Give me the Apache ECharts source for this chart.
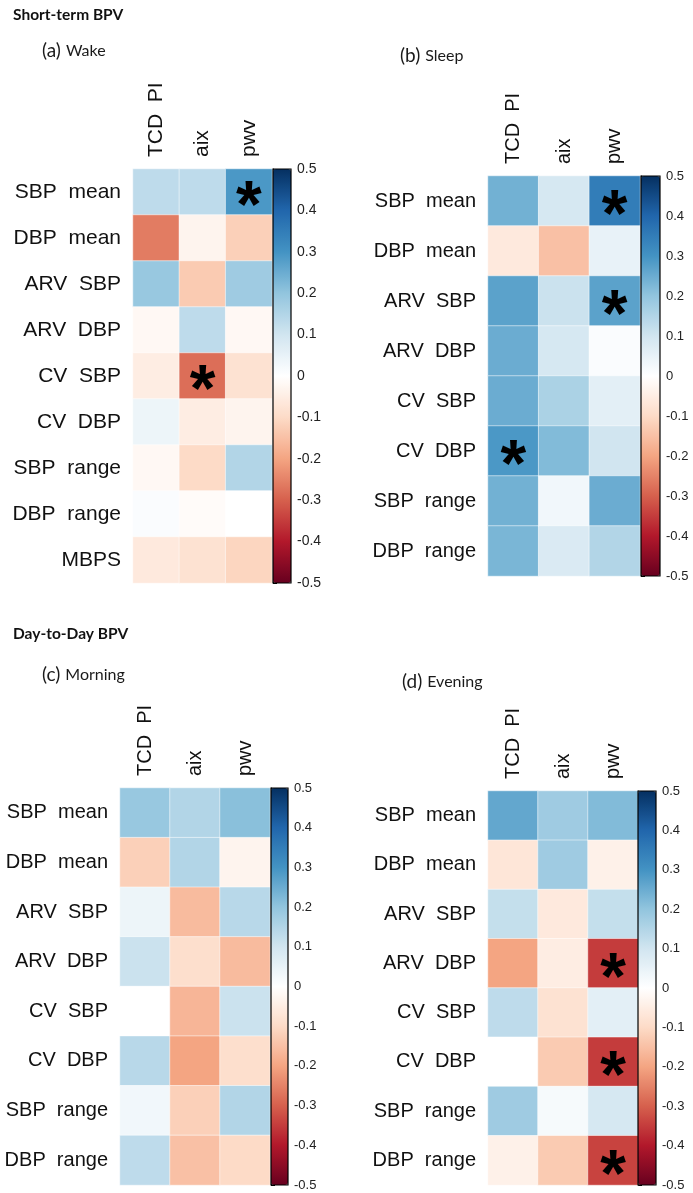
<!DOCTYPE html>
<html>
<head>
<meta charset="utf-8">
<title>BPV correlations</title>
<script src="https://cdn.jsdelivr.net/npm/echarts@6/dist/echarts.min.js"></script>
<style>
  html, body { margin: 0; padding: 0; background: #fff; }
  #chart { width: 693px; height: 1193px; }
</style>
</head>
<body>
<div id="chart"></div>
<script>
// axis categories
const colLabels = ['TCD  PI', 'aix', 'pwv'];
const rowLabels = ['SBP  mean', 'DBP  mean', 'ARV  SBP', 'ARV  DBP', 'CV  SBP',
                   'CV  DBP', 'SBP  range', 'DBP  range', 'MBPS'];

// (a) Wake  - one value per row, per column
const wakeTcd = [0.13, -0.26, 0.19, -0.02, -0.05, 0.04, -0.02, 0.01, -0.06];
const wakeAix = [0.13, -0.03, -0.13, 0.13, -0.28, -0.05, -0.10, -0.01, -0.08];
const wakePwv = [0.29, -0.12, 0.18, -0.02, -0.08, -0.03, 0.15, 0.00, -0.11];
const wakeStars = [[0, 2], [4, 1]];          // [row, col]

// (b) Sleep
const sleepTcd = [0.24, -0.06, 0.27, 0.25, 0.25, 0.29, 0.24, 0.23];
const sleepAix = [0.09, -0.15, 0.11, 0.09, 0.16, 0.22, 0.03, 0.08];
const sleepPwv = [0.35, 0.05, 0.27, 0.01, 0.06, 0.10, 0.25, 0.15];
const sleepStars = [[0, 2], [2, 2], [5, 0]];

// (c) Morning
const morningTcd = [0.19, -0.12, 0.04, 0.11, 0.00, 0.14, 0.03, 0.13];
const morningAix = [0.15, 0.15, -0.16, -0.09, -0.17, -0.20, -0.12, -0.15];
const morningPwv = [0.21, -0.03, 0.14, -0.16, 0.11, -0.09, 0.15, -0.10];
const morningStars = [];

// (d) Evening
const eveningTcd = [0.26, -0.07, 0.12, -0.20, 0.13, 0.00, 0.18, -0.04];
const eveningAix = [0.18, 0.18, -0.06, -0.05, -0.08, -0.13, 0.02, -0.13];
const eveningPwv = [0.22, -0.04, 0.12, -0.35, 0.06, -0.35, 0.09, -0.34];
const eveningStars = [[3, 2], [5, 2], [7, 2]];

// colour scale (RdBu) and colour bar range
const rdbu = ['#67001F', '#B2182B', '#D6604D', '#F4A582', '#FDDBC7', '#FFFFFF',
              '#D1E5F0', '#92C5DE', '#4393C3', '#2166AC', '#053061'];
const scaleMin = -0.5;
const scaleMax = 0.5;
const scaleStep = 0.1;

const panels = [
  { cols: [wakeTcd, wakeAix, wakePwv], stars: wakeStars, rows: 9,
    grid: { left: 133, top: 169, width: 139, height: 414 },
    bar: { left: 273, width: 18 }, font: 21, tickFont: 14 },
  { cols: [sleepTcd, sleepAix, sleepPwv], stars: sleepStars, rows: 8,
    grid: { left: 488, top: 176, width: 152, height: 400 },
    bar: { left: 641, width: 19 }, font: 20, tickFont: 13 },
  { cols: [morningTcd, morningAix, morningPwv], stars: morningStars, rows: 8,
    grid: { left: 120, top: 788, width: 150, height: 397 },
    bar: { left: 271, width: 17 }, font: 20, tickFont: 13 },
  { cols: [eveningTcd, eveningAix, eveningPwv], stars: eveningStars, rows: 8,
    grid: { left: 488, top: 791, width: 150, height: 394 },
    bar: { left: 638, width: 18 }, font: 20, tickFont: 13 }
];

const labelFont = "'Liberation Sans', Arial, sans-serif";
const titleFont = "Lato, 'Open Sans', sans-serif";

const grids = [], xAxes = [], yAxes = [], series = [], visualMaps = [];

panels.forEach(function (p, i) {
  const rows = rowLabels.slice(0, p.rows);
  const starKeys = p.stars.map(function (s) { return s[0] + '_' + s[1]; });
  const data = [];
  p.cols.forEach(function (vals, c) {
    vals.forEach(function (v, r) { data.push([c, r, v]); });
  });

  // heatmap grid
  grids.push(Object.assign({ outerBoundsMode: 'none' }, p.grid));
  xAxes.push({
    type: 'category', gridIndex: 2 * i, data: colLabels, position: 'top',
    axisLine: { show: false }, axisTick: { show: false }, splitLine: { show: false },
    axisLabel: { rotate: -90, margin: 12, fontSize: p.font, color: '#111', fontFamily: labelFont }
  });
  yAxes.push({
    type: 'category', gridIndex: 2 * i, data: rows, inverse: true,
    axisLine: { show: false }, axisTick: { show: false }, splitLine: { show: false },
    axisLabel: { margin: 12, fontSize: p.font, color: '#111', fontFamily: labelFont }
  });

  // colour bar frame + ticks
  grids.push({
    outerBoundsMode: 'none', show: true, z: 10, backgroundColor: 'transparent',
    borderColor: '#000', borderWidth: 1.2,
    left: p.bar.left, width: p.bar.width, top: p.grid.top, height: p.grid.height
  });
  xAxes.push({ type: 'value', gridIndex: 2 * i + 1, show: false, min: 0, max: 1 });
  yAxes.push({
    type: 'value', gridIndex: 2 * i + 1, position: 'right',
    min: scaleMin, max: scaleMax, interval: scaleStep,
    axisLine: { show: true, lineStyle: { color: '#000', width: 1.2 } },
    axisTick: { show: true, length: 4, lineStyle: { color: '#000' } },
    splitLine: { show: false },
    axisLabel: {
      margin: 6, fontSize: p.tickFont, color: '#222', fontFamily: labelFont,
      formatter: function (v) { return String(+v.toFixed(1)); }
    }
  });

  series.push({
    type: 'heatmap', xAxisIndex: 2 * i, yAxisIndex: 2 * i, data: data,
    itemStyle: { borderColor: 'rgba(255,255,255,0.5)', borderWidth: 1 },
    emphasis: { disabled: true },
    label: {
      show: true, color: '#000', fontSize: 66, fontWeight: 'bold',
      fontFamily: labelFont, offset: [0, 17],
      formatter: function (d) {
        return starKeys.indexOf(d.data[1] + '_' + d.data[0]) >= 0 ? '*' : '';
      }
    }
  });

  visualMaps.push({
    type: 'continuous', seriesIndex: i, min: scaleMin, max: scaleMax,
    calculable: false, hoverLink: false, orient: 'vertical', padding: 0,
    left: p.bar.left, top: p.grid.top,
    itemWidth: p.bar.width, itemHeight: p.grid.height,
    inRange: { color: rdbu }
  });
});

// empty series so that the colour bar axes get drawn
panels.forEach(function (p, i) {
  series.push({ type: 'scatter', xAxisIndex: 2 * i + 1, yAxisIndex: 2 * i + 1, data: [], silent: true });
});

function panelTitle(tag, name, left, top) {
  return {
    text: '{p|' + tag + '} {t|' + name + '}', left: left, top: top,
    textStyle: {
      fontWeight: 'normal',
      rich: {
        p: { fontSize: 19, fontWeight: 'normal', color: '#1a1a1a', fontFamily: titleFont },
        t: { fontSize: 16, fontWeight: 'normal', color: '#1a1a1a', fontFamily: titleFont }
      }
    }
  };
}
const headStyle = { fontSize: 15.5, fontWeight: 'bold', color: '#111', fontFamily: titleFont };

const chart = echarts.init(document.getElementById('chart'), null, { renderer: 'canvas' });
chart.setOption({
  backgroundColor: '#fff',
  animation: false,
  title: [
    { text: 'Short-term BPV', left: 8, top: 2, textStyle: headStyle },
    panelTitle('(a)', 'Wake', 37, 36),
    panelTitle('(b)', 'Sleep', 395, 41),
    { text: 'Day-to-Day BPV', left: 8, top: 621, textStyle: headStyle },
    panelTitle('(c)', 'Morning', 37, 660),
    panelTitle('(d)', 'Evening', 397, 667)
  ],
  grid: grids,
  xAxis: xAxes,
  yAxis: yAxes,
  visualMap: visualMaps,
  series: series
});
</script>
</body>
</html>
